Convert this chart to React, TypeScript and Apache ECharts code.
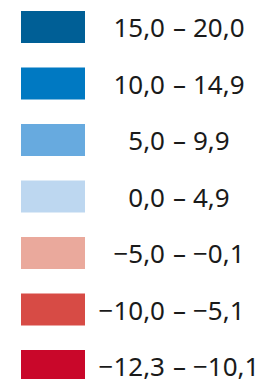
import React, { useEffect, useRef } from 'react';
import * as echarts from 'echarts';

// Class bounds (top to bottom as shown in the legend)
const lowerBounds = [15.0, 10.0, 5.0, 0.0, -5.0, -10.0, -12.3];
const upperBounds = [20.0, 14.9, 9.9, 4.9, -0.1, -5.1, -10.1];
const classColors = ['#005F96', '#0079C2', '#67AADF', '#BDD7F0', '#EAA99C', '#D74B45', '#C9072A'];

const fmt = (v: number) => (v < 0 ? '\u2212' : '') + Math.abs(v).toFixed(1).replace('.', ',');

const FONT_SIZE = 26;
const FONT_FAMILY = 'Noto Sans';
const TEXT_COLOR = '#1a1a1a';

export default function App() {
  const ref = useRef<HTMLDivElement>(null);
  useEffect(() => {
    if (!ref.current) return;
    const chart = echarts.init(ref.current, undefined, { renderer: 'svg' });

    const ctx = document.createElement('canvas').getContext('2d')!;
    ctx.font = `${FONT_SIZE}px "${FONT_FAMILY}"`;
    const measure = (s: string) => ctx.measureText(s).width;

    const leftColWidth = 75; // left part right-aligned within this width
    const dashW = measure('\u2013');
    const dashPadL = 8;
    const dashPadR = Math.max(0, 28 - dashPadL - dashW);

    const base = { fontFamily: FONT_FAMILY, fontSize: FONT_SIZE, color: TEXT_COLOR, lineHeight: 24 };
    const rich: Record<string, any> = {
      d: { ...base, align: 'left', padding: [0, dashPadR, 0, dashPadL] },
      b: { ...base, align: 'left', padding: [0, 0, 0, 0] },
    };

    const pieces = lowerBounds.map((lo, i) => {
      const leftText = fmt(lo);
      rich['a' + i] = { ...base, align: 'left', padding: [0, 0, 0, Math.max(0, leftColWidth - measure(leftText))] };
      return {
        min: lo,
        max: upperBounds[i],
        color: classColors[i],
        label: `{a${i}|${leftText}}{d|\u2013}{b|${fmt(upperBounds[i])}}`,
      };
    });

    chart.setOption({
      animation: false,
      visualMap: {
        type: 'piecewise',
        orient: 'vertical',
        left: 21,
        top: 11,
        padding: 0,
        itemWidth: 64,
        itemHeight: 32,
        itemGap: 24.5,
        textGap: 5,
        itemSymbol: 'rect',
        selectedMode: false,
        hoverLink: false,
        pieces: pieces.slice().reverse(),
        textStyle: { ...base, rich },
      },
      series: [],
    });
    return () => chart.dispose();
  }, []);
  return (
    <div
      ref={ref}
      style={{ position: 'absolute', left: 0, top: 0, width: 260, height: 379, background: '#ffffff' }}
    />
  );
}
